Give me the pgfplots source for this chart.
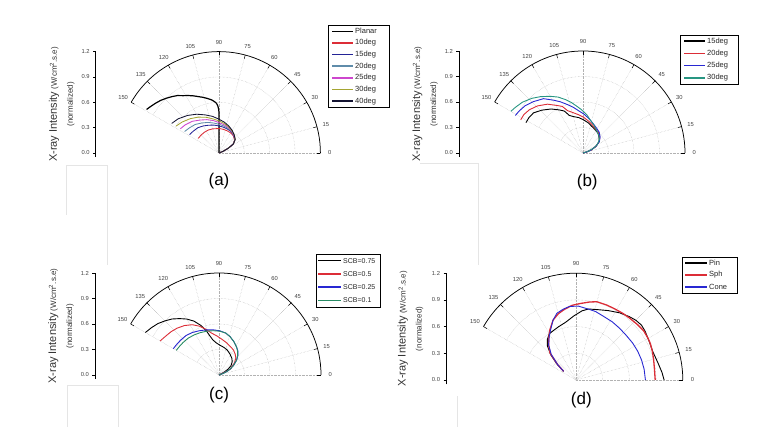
\documentclass[border=0pt]{standalone}
\usepackage{pgfplots}
\pgfplotsset{compat=1.18}
\usepackage{fontspec}
\setmainfont{Liberation Sans}

\definecolor{cRed}{RGB}{220,45,55}
\definecolor{cNavy}{RGB}{35,35,150}
\definecolor{cSteel}{RGB}{95,140,170}
\definecolor{cMag}{RGB}{205,70,205}
\definecolor{cOlive}{RGB}{165,165,50}
\definecolor{cDark}{RGB}{20,20,50}
\definecolor{cBlue}{RGB}{40,40,210}
\definecolor{cTeal}{RGB}{40,150,130}
\definecolor{cGreen}{RGB}{40,140,100}

\newcommand{\anglefont}{\fontsize{5.8}{6}\selectfont}

\pgfplotsset{
  panel/.style={
    axis y line*=left, axis x line=none,
    xmin=-1.46, xmax=1.25, ymin=-0.05, ymax=1.2,
    ytick={0,0.3,0.6,0.9,1.2}, xtick=\empty,
    /pgf/number format/fixed, /pgf/number format/fixed zerofill,
    /pgf/number format/precision=1, /pgf/number format/assume math mode=true,
    yticklabel style={font=\fontsize{5.8}{6}\selectfont, text=black!75},
    tick align=outside, major tick length=2.5pt,
    tick style={black, line width=0.5pt},
    axis line style={black, line width=0.7pt},
    clip=false,
  }
}

% #1 = unit length in pt
\newcommand{\polargrid}[1]{%
  \pgfplotsinvokeforeach{0,15,...,150}{%
    \draw[gray!60, densely dotted] (axis cs:0,0) -- (axis cs:{1.2*cos(##1)},{1.2*sin(##1)});
    \draw[black, line width=0.5pt] (axis cs:{1.2*cos(##1)},{1.2*sin(##1)}) -- (axis cs:{1.155*cos(##1)},{1.155*sin(##1)});
    \node[font=\anglefont, text=black!75] at (axis cs:{1.31*cos(##1)},{1.31*sin(##1)}) {##1};
  }%
  \pgfplotsinvokeforeach{0.3,0.6,0.9}{%
    \draw[gray!60, densely dotted] (axis cs:##1,0) arc[start angle=0, end angle=150, radius=##1*#1pt];
  }%
  \draw[black, line width=0.75pt] (axis cs:1.2,0) arc[start angle=0, end angle=150, radius=1.2*#1pt];
}

\newcommand{\ylab}{%
  \node[rotate=90, align=center, text=black!80, font=\fontsize{8}{16}\selectfont] at (axis cs:-1.86,0.575)
    {{\fontsize{11}{12}\selectfont X-ray Intensity} (W/cm\textsuperscript{2}.s.e)\\(normalized)};
}

% manual legend: #1 left x, #2 top y, #3 right x, #4 pitch, #5 line start, #6 line end, #7 font size, #8 entries colour/width/label
\newcommand{\mylegend}[8]{%
  \foreach \c/\w/\t [count=\i] in {#8} {
    \pgfmathsetmacro{\yy}{#2-(\i-0.5)*#4}
    \draw[\c, line width=\w pt] (#5,\yy) -- (#6,\yy);
    \node[anchor=west, inner sep=0pt, text=black!85, font=\fontsize{#7}{#7}\selectfont] at ({#6+2},\yy) {\t};
    \xdef\nlast{\i}
  }
  \draw[black, line width=0.7pt] (#1,#2) rectangle (#3,{#2-\nlast*#4});
}

\begin{document}
\begin{tikzpicture}[x=1pt,y=1pt]
\path[use as bounding box] (0,0) rectangle (780,427);

% faint artefact frames
\draw[gray!20] (66,212) -- (66,262) -- (107,262) -- (107,162);
\draw[gray!20] (420,264) -- (478,264) -- (478,162);
\draw[gray!20] (67,0) -- (67,42) -- (118,42) -- (118,0);
\draw[gray!20] (457,0) -- (457,31);

% ---------------- (a)
\begin{axis}[panel, x=84.5pt, y=84.5pt, at={(219pt,274pt)}, anchor=origin]
\polargrid{84.5}
\ylab
\node[font=\fontsize{17}{20}\selectfont] at (axis cs:0,-0.33) {(a)};
\addplot[black, line width=1.2pt, data cs=polar] coordinates {
 (149,1.00) (146,0.98) (142,0.955) (138,0.93) (134,0.90) (130,0.87) (126,0.84) (122,0.80)
 (118,0.77) (114,0.74) (110,0.71) (106,0.685) (102,0.66) (98,0.635) (95,0.61) (93,0.59)
 (91.5,0.56) (90.5,0.52) (90,0.48) (90,0.3) (90,0.1) (90,0)};
\addplot[cRed, line width=0.85pt, data cs=polar] coordinates {
 (145,0.30) (135,0.30) (125,0.30) (115,0.30) (105,0.295) (90,0.29) (80,0.285) (70,0.28)
 (60,0.275) (50,0.265) (40,0.24) (32,0.2) (27,0.12) (22,0.05) (20,0)};
\addplot[cNavy, line width=0.85pt, data cs=polar] coordinates {
 (148,0.41) (140,0.40) (130,0.39) (120,0.37) (110,0.35) (100,0.335) (90,0.32) (80,0.31)
 (70,0.30) (60,0.29) (50,0.27) (40,0.245) (32,0.2) (27,0.12) (22,0.05) (20,0)};
\addplot[cSteel, line width=0.85pt, data cs=polar] coordinates {
 (148,0.48) (140,0.46) (130,0.44) (120,0.41) (110,0.385) (100,0.36) (90,0.34) (80,0.325)
 (70,0.31) (60,0.295) (50,0.275) (40,0.25) (32,0.2) (27,0.12) (22,0.05) (20,0)};
\addplot[cMag, line width=0.85pt, data cs=polar] coordinates {
 (148,0.54) (140,0.52) (130,0.49) (120,0.45) (110,0.42) (100,0.39) (90,0.36) (80,0.34)
 (70,0.32) (60,0.30) (50,0.275) (40,0.25) (32,0.2) (27,0.12) (22,0.05) (20,0)};
\addplot[cOlive, line width=0.85pt, data cs=polar] coordinates {
 (148,0.60) (140,0.57) (130,0.53) (120,0.49) (110,0.45) (100,0.41) (90,0.38) (80,0.355)
 (70,0.33) (60,0.305) (50,0.28) (40,0.25) (32,0.2) (27,0.12) (22,0.05) (20,0)};
\addplot[cDark, line width=0.85pt, data cs=polar] coordinates {
 (148,0.66) (140,0.63) (130,0.58) (120,0.53) (110,0.48) (100,0.44) (90,0.40) (80,0.37)
 (70,0.34) (60,0.31) (50,0.28) (40,0.25) (32,0.2) (27,0.12) (22,0.05) (20,0)};
\end{axis}

% ---------------- (b)
\begin{axis}[panel, x=85pt, y=85pt, at={(583pt,274pt)}, anchor=origin]
\polargrid{85}
\ylab
\node[font=\fontsize{17}{20}\selectfont] at (axis cs:0.05,-0.34) {(b)};
\addplot[black, line width=0.9pt, data cs=polar] coordinates {
 (152,0.76) (147,0.76) (141,0.75) (134,0.70) (126,0.64) (119,0.58) (114,0.54) (110,0.47)
 (104,0.44) (97,0.42) (89,0.39) (80,0.36) (72,0.33) (62,0.31) (52,0.29) (43,0.26)
 (35,0.23) (27,0.17) (20,0.10) (15,0.04) (13,0)};
\addplot[cRed, line width=0.9pt, data cs=polar] coordinates {
 (152,0.83) (147,0.83) (141,0.81) (134,0.77) (126,0.71) (119,0.64) (114,0.60) (110,0.53)
 (104,0.49) (97,0.455) (89,0.42) (80,0.38) (72,0.35) (62,0.32) (52,0.30) (43,0.27)
 (35,0.235) (27,0.17) (20,0.10) (15,0.04) (13,0)};
\addplot[cBlue, line width=0.9pt, data cs=polar] coordinates {
 (151,0.91) (147,0.90) (141,0.88) (134,0.84) (126,0.79) (119,0.71) (114,0.66) (108,0.60)
 (102,0.55) (96,0.50) (89,0.46) (80,0.41) (72,0.37) (62,0.335) (52,0.31) (43,0.275)
 (35,0.235) (27,0.17) (20,0.10) (15,0.04) (13,0)};
\addplot[cTeal, line width=0.9pt, data cs=polar] coordinates {
 (150,0.98) (146,0.96) (140,0.93) (133,0.88) (127,0.83) (120,0.77) (114,0.72) (108,0.66)
 (103,0.61) (97,0.55) (92,0.51) (84,0.45) (78,0.40) (68,0.35) (59,0.31) (49,0.28)
 (39,0.25) (30,0.19) (24,0.13) (18,0.06) (15,0)};
\end{axis}

% ---------------- (c)
\begin{axis}[panel, x=85pt, y=85pt, at={(219pt,52pt)}, anchor=origin]
\polargrid{85}
\ylab
\node[font=\fontsize{17}{20}\selectfont] at (axis cs:0,-0.24) {(c)};
\addplot[black, line width=0.9pt, data cs=polar] coordinates {
 (150,1.0) (145,0.97) (140,0.94) (135,0.90) (130,0.86) (125,0.81) (120,0.76) (115,0.70)
 (110,0.62) (106,0.54) (103,0.47) (100,0.42) (95,0.38) (88,0.35) (80,0.33) (72,0.31)
 (63,0.28) (53,0.25) (45,0.22) (38,0.18) (33,0.13) (29,0.07) (26,0)};
\addplot[cRed, line width=0.9pt, data cs=polar] coordinates {
 (150,0.80) (145,0.78) (138,0.76) (132,0.74) (125,0.71) (118,0.67) (112,0.62) (106,0.56)
 (100,0.50) (93,0.46) (85,0.42) (77,0.39) (68,0.36) (60,0.34) (52,0.31) (45,0.28)
 (38,0.23) (32,0.17) (28,0.16) (25,0.09) (22,0)};
\addplot[cBlue, line width=0.9pt, data cs=polar] coordinates {
 (150,0.62) (145,0.615) (138,0.61) (130,0.605) (122,0.59) (114,0.57) (105,0.55) (97,0.535)
 (89,0.52) (81,0.50) (74,0.47) (66,0.43) (58,0.39) (52,0.36) (46,0.32) (40,0.27)
 (34,0.21) (28,0.15) (24,0.10) (21,0.05) (19,0)};
\addplot[cGreen, line width=0.9pt, data cs=polar] coordinates {
 (150,0.58) (145,0.575) (138,0.57) (130,0.565) (122,0.555) (114,0.545) (105,0.535) (97,0.525)
 (89,0.515) (81,0.50) (74,0.47) (66,0.43) (58,0.39) (52,0.355) (46,0.315) (40,0.27)
 (34,0.21) (28,0.15) (24,0.10) (21,0.05) (19,0)};
\end{axis}

% ---------------- (d)
\begin{axis}[panel, x=89pt, y=89pt, at={(576pt,47pt)}, anchor=origin]
\polargrid{89}
\ylab
\node[font=\fontsize{17}{20}\selectfont] at (axis cs:0.06,-0.23) {(d)};
\addplot[black, line width=0.9pt, data cs=polar] coordinates {
 (145,0.17) (140,0.28) (135,0.40) (130,0.50) (125,0.56) (120,0.60) (115,0.61) (108,0.63)
 (100,0.66) (92,0.72) (85,0.78) (80,0.81) (72,0.83) (65,0.86) (57,0.90) (50,0.93)
 (45,0.95) (40,0.96) (35,0.95) (28,0.93) (20,0.92) (12,0.94) (5,0.97) (0,0.99)};
\addplot[cRed, line width=1.3pt, data cs=polar] coordinates {
 (145,0.17) (140,0.27) (134,0.42) (128,0.50) (124,0.55) (118,0.63) (111,0.72) (105,0.77)
 (100,0.80) (93,0.84) (87,0.86) (80,0.89) (75,0.91) (68,0.91) (62,0.91) (55,0.915)
 (49,0.92) (42,0.93) (36,0.94) (30,0.935) (26,0.93) (20,0.915) (14,0.90) (8,0.89) (0,0.89)};
\addplot[cBlue, line width=0.9pt, data cs=polar] coordinates {
 (145,0.17) (140,0.27) (134,0.40) (128,0.50) (122,0.57) (117,0.63) (111,0.72) (106,0.78)
 (100,0.81) (95,0.83) (88,0.83) (81,0.81) (74,0.80) (67,0.78) (58,0.77) (50,0.76)
 (42,0.755) (33,0.76) (25,0.765) (17,0.77) (9,0.775) (0,0.78)};
\end{axis}

% ---------------- legends (drawn as plain TikZ)
\mylegend{328}{401.5}{389}{11.64}{332}{353}{7.5}{black/1.5/Planar, cRed/1.5/10deg, cNavy/1.5/15deg, cSteel/1.5/20deg, cMag/1.5/25deg, cOlive/1.5/30deg, cDark/1.5/40deg}
\mylegend{680}{392}{738}{12.25}{684}{705}{7.5}{black/1.5/15deg, cRed/1.5/20deg, cBlue/1.5/25deg, cTeal/1.5/30deg}
\mylegend{316}{173}{380}{13.25}{318}{341}{7}{black/1.5/SCB=0.75, cRed/1.5/SCB=0.5, cBlue/1.5/SCB=0.25, cGreen/1.5/SCB=0.1}
\mylegend{682}{170}{737}{12}{685}{707}{7.5}{black/1.5/Pin, cRed/1.8/Sph, cBlue/1.5/Cone}
\end{tikzpicture}
\end{document}
